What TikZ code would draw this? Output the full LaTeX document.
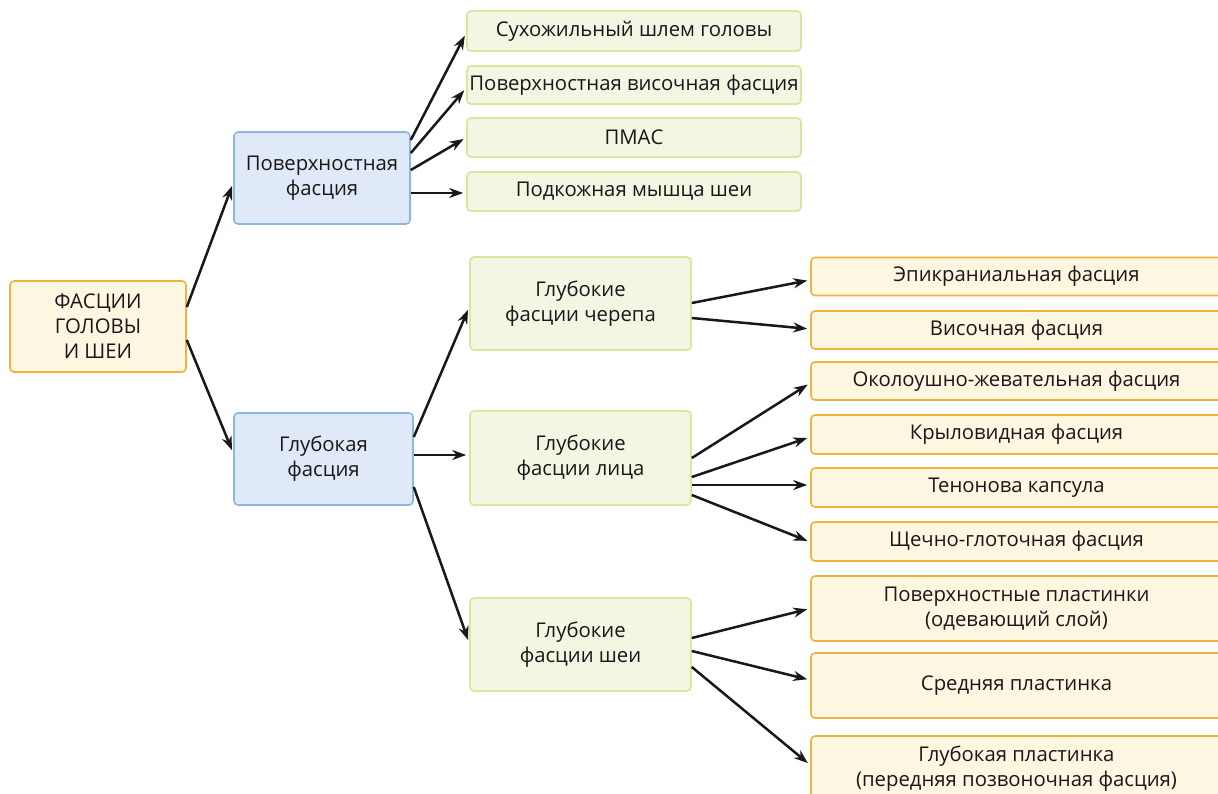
\documentclass[tikz,border=0pt]{standalone}
\usepackage{fontspec}
\setmainfont{Open Sans}
\usetikzlibrary{arrows.meta}
\definecolor{orfill}{HTML}{FDF7E2}
\definecolor{ordraw}{HTML}{F2B23E}
\definecolor{grfill}{HTML}{F3F6E3}
\definecolor{grdraw}{HTML}{DCE49E}
\definecolor{blfill}{HTML}{DFE9F7}
\definecolor{bldraw}{HTML}{8DB7E2}
\definecolor{txt}{HTML}{1A1718}
\tikzset{
  box/.style={rectangle, rounded corners=4pt, line width=1.6pt, align=center,
    inner sep=0pt, text=txt, font=\fontsize{20.3}{25}\selectfont},
  rootbox/.style={box, fill=orfill, draw=ordraw},
  bluebox/.style={box, fill=blfill, draw=bldraw},
  greenbox/.style={box, fill=grfill, draw=grdraw},
  orbox/.style={box, fill=orfill, draw=ordraw},
  conn/.style={-{Stealth[length=14pt,width=10pt]}, line width=2.5pt, draw=txt, shorten >=3pt}
}
\begin{document}
\begin{tikzpicture}[x=1pt,y=-1pt]
\clip (0,0) rectangle (1218,793);
\fill[white] (0,0) rectangle (1218,793);

\node[rootbox, minimum width=176pt, minimum height=91pt] (root) at (98,326.5) {ФАСЦИИ\\ГОЛОВЫ\\И ШЕИ};

\node[bluebox, minimum width=176pt, minimum height=92pt] (sup) at (322,178) {Поверхностная\\фасция};
\node[bluebox, minimum width=179pt, minimum height=92pt] (deep) at (323.5,459) {Глубокая\\фасция};

\node[greenbox, minimum width=334pt, minimum height=40pt] (g1) at (634,31) {Сухожильный шлем головы};
\node[greenbox, minimum width=334pt, minimum height=38pt] (g2) at (634,85) {Поверхностная височная фасция};
\node[greenbox, minimum width=334pt, minimum height=39pt] (g3) at (634,137.5) {ПМАС};
\node[greenbox, minimum width=334pt, minimum height=39pt] (g4) at (634,191.5) {Подкожная мышца шеи};

\node[greenbox, minimum width=221pt, minimum height=93pt] (cr) at (580.5,303.5) {Глубокие\\фасции черепа};
\node[greenbox, minimum width=221pt, minimum height=94pt] (face) at (580.5,458) {Глубокие\\фасции лица};
\node[greenbox, minimum width=221pt, minimum height=93pt] (neck) at (580.5,644.5) {Глубокие\\фасции шеи};

\node[orbox, minimum width=411pt, minimum height=38pt] (o1) at (1016.5,276.5) {Эпикраниальная фасция};
\node[orbox, minimum width=411pt, minimum height=38pt] (o2) at (1016.5,330) {Височная фасция};
\node[orbox, minimum width=411pt, minimum height=38pt] (o3) at (1016.5,381) {Околоушно-жевательная фасция};
\node[orbox, minimum width=411pt, minimum height=39pt] (o4) at (1016.5,434.5) {Крыловидная фасция};
\node[orbox, minimum width=411pt, minimum height=39pt] (o5) at (1016.5,487.5) {Тенонова капсула};
\node[orbox, minimum width=411pt, minimum height=39pt] (o6) at (1016.5,541.5) {Щечно-глоточная фасция};
\node[orbox, minimum width=411pt, minimum height=65pt] (o7) at (1016.5,608.5) {Поверхностные пластинки\\(одевающий слой)};
\node[orbox, minimum width=411pt, minimum height=65pt] (o8) at (1016.5,685.5) {Средняя пластинка};
\node[orbox, minimum width=411pt, minimum height=65pt] (o9) at (1016.5,768.5) {Глубокая пластинка\\(передняя позвоночная фасция)};

% root
\draw[conn] ([yshift=19.5pt]root.east) -- ([yshift=-5pt]sup.west);
\draw[conn] ([yshift=-13.5pt]root.east) -- ([yshift=6pt]deep.west);
% superficial
\draw[conn] ([yshift=38pt]sup.east) -- ([yshift=-2pt]g1.west);
\draw[conn] ([yshift=25pt]sup.east) -- ([yshift=-3pt]g2.west);
\draw[conn] ([yshift=8pt]sup.east) -- ([yshift=0pt]g3.west);
\draw[conn] ([yshift=-15pt]sup.east) -- ([yshift=-1.5pt]g4.west);
% deep
\draw[conn] ([yshift=22pt]deep.east) -- ([yshift=-3.5pt]cr.west);
\draw[conn] ([yshift=4pt]deep.east) -- ([yshift=3pt]face.west);
\draw[conn] ([yshift=-28pt]deep.east) -- ([yshift=1.5pt]neck.west);
% cranium
\draw[conn] ([yshift=0.5pt]cr.east) -- ([yshift=-3.5pt]o1.west);
\draw[conn] ([yshift=-14.5pt]cr.east) -- ([yshift=1pt]o2.west);
% face
\draw[conn] ([yshift=0pt]face.east) -- ([yshift=-2pt]o3.west);
\draw[conn] ([yshift=-19pt]face.east) -- ([yshift=-2.5pt]o4.west);
\draw[conn] ([yshift=-27pt]face.east) -- ([yshift=2.5pt]o5.west);
\draw[conn] ([yshift=-37pt]face.east) -- ([yshift=-0.5pt]o6.west);
% neck
\draw[conn] ([yshift=6.5pt]neck.east) -- ([yshift=0pt]o7.west);
\draw[conn] ([yshift=-6.5pt]neck.east) -- ([yshift=5.5pt]o8.west);
\draw[conn] ([yshift=-22.5pt]neck.east) -- ([yshift=3.5pt]o9.west);
\end{tikzpicture}
\end{document}
